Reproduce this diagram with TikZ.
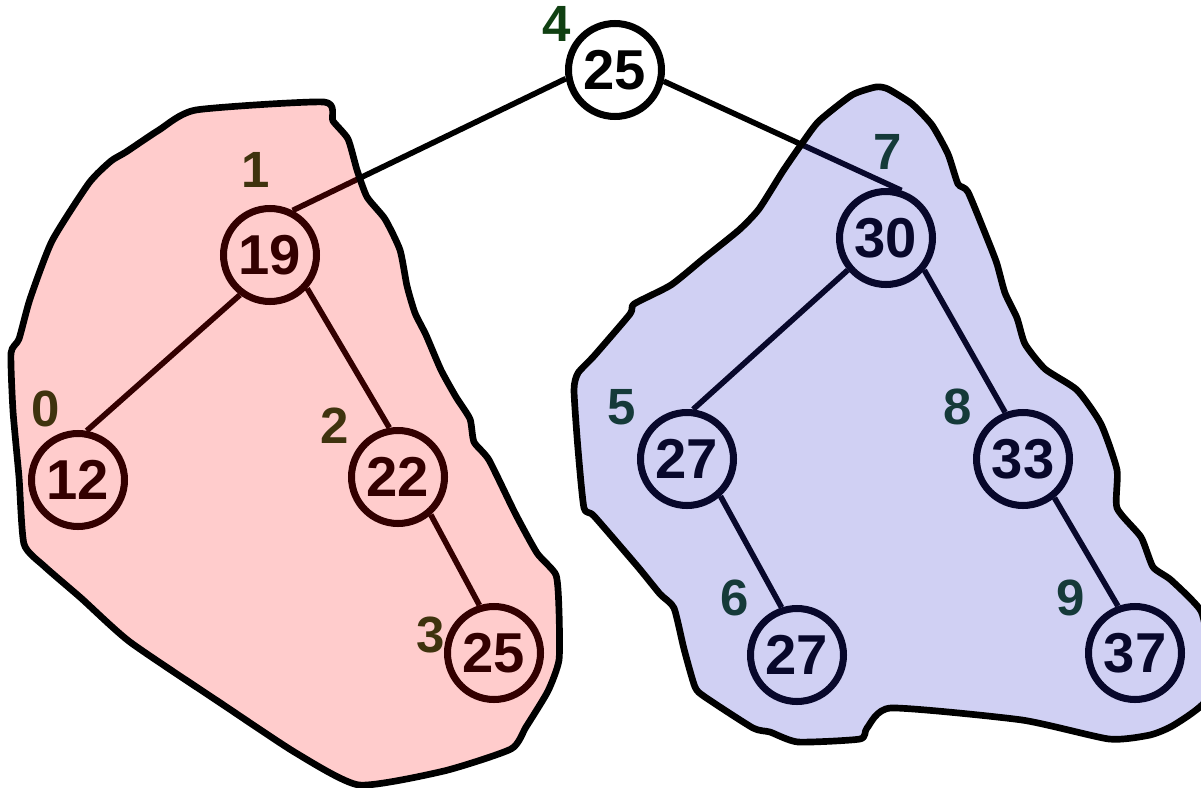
\documentclass[tikz,border=0pt]{standalone}
\usepackage{fontspec}
\setmainfont{Liberation Sans}
\usetikzlibrary{calc}

\definecolor{idxgreen}{RGB}{16,64,18}
\definecolor{lobe}{RGB}{255,0,0}
\definecolor{hibe}{RGB}{40,40,200}

\begin{document}
\begin{tikzpicture}[x=0.02cm,y=-0.02cm,
        vtx/.style={circle, draw, line width=4pt, minimum size=1.86cm, inner sep=0pt,
            font=\fontsize{32}{36}\selectfont\bfseries},
        idx/.style={text=idxgreen, inner sep=0pt, font=\fontsize{29}{33}\selectfont\bfseries},
        edge/.style={line width=3.2pt},
        blob/.style={line width=3.8pt, line join=round}]
    \useasboundingbox (0,0) rectangle (1201,788);

        \node[vtx] (R) at (615,70) {25};
        \node[vtx] (A) at (270,255) {19};
        \node[vtx] (B) at (78,480) {12};
        \node[vtx] (C) at (398,477) {22};
        \node[vtx] (D) at (494,653) {25};
        \node[vtx] (E) at (886,238) {30};
        \node[vtx] (F) at (687,459) {27};
        \node[vtx] (G) at (1023,459) {33};
        \node[vtx] (H) at (797,655) {27};
        \node[vtx] (K) at (1135,653) {37};

        \node[idx] (iR) at (557,24) {4};
        \node[idx] (iA) at (256,170) {1};
        \node[idx] (iB) at (46,409) {0};
        \node[idx] (iC) at (335,426) {2};
        \node[idx] (iD) at (431,635) {3};
        \node[idx] (iE) at (888,152) {7};
        \node[idx] (iF) at (622,407) {5};
        \node[idx] (iG) at (958,407) {8};
        \node[idx] (iH) at (735,598) {6};
        \node[idx] (iK) at (1071,598) {9};

        \draw[edge] (R.190) -- (A.63);
        \draw[edge] (R.347) -- (E.72);
        \draw[edge] (A.233) -- (B.80);
        \draw[edge] (A.318) -- (C.100);
        \draw[edge] (C.311) -- (D.107);
        \draw[edge] (E.220) -- (F.83);
        \draw[edge] (E.320) -- (G.111);
        \draw[edge] (F.312) -- (H.108);
        \draw[edge] (G.309) -- (K.110);

        \def\lowpart{(196,110) (324,102) (333,121) (348,139) (357,170) (367,197) (385,219)
            (400,250) (407,286) (415,313) (426,335) (441,370) (456,397) (470,419) (474,442)
            (489,460) (515,513) (537,553) (556,575) (559,611) (559,660) (548,691) (526,727)
            (511,749) (444,771) (359,785) (296,753) (222,704) (130,642) (81,598) (44,566)
            (24,544) (19,477) (13,411) (11,353) (19,339) (30,299) (52,241) (89,183)
            (111,161) (126,152) (159,130)}
        \def\highpart{(876,87) (888,89) (912,104) (932,125) (948,154) (958,184) (968,192)
            (989,243) (997,264) (1005,293) (1017,318) (1025,344) (1045,369) (1077,390)
            (1101,424) (1117,470) (1117,508) (1141,537) (1153,567) (1171,580) (1201,611)
            (1208,650) (1206,700) (1174,725) (1150,735) (1109,739) (1022,720) (891,708)
            (867,728) (860,739) (798,742) (770,732) (753,728) (705,697) (695,687) (684,649)
            (674,608) (660,594) (638,567) (594,516) (584,508) (578,449) (574,390) (578,373)
            (594,356) (630,314) (634,304) (671,285) (703,259) (739,230) (759,209) (783,171)
            (803,142) (819,121) (852,95)}

        \fill[lobe, fill opacity=0.2] plot[smooth cycle, tension=0.35] coordinates \lowpart;
        \fill[hibe, fill opacity=0.22] plot[smooth cycle, tension=0.35] coordinates \highpart;
        \draw[blob] plot[smooth cycle, tension=0.35] coordinates \lowpart;
        \draw[blob] plot[smooth cycle, tension=0.35] coordinates \highpart;
    \end{tikzpicture}
\end{document}
